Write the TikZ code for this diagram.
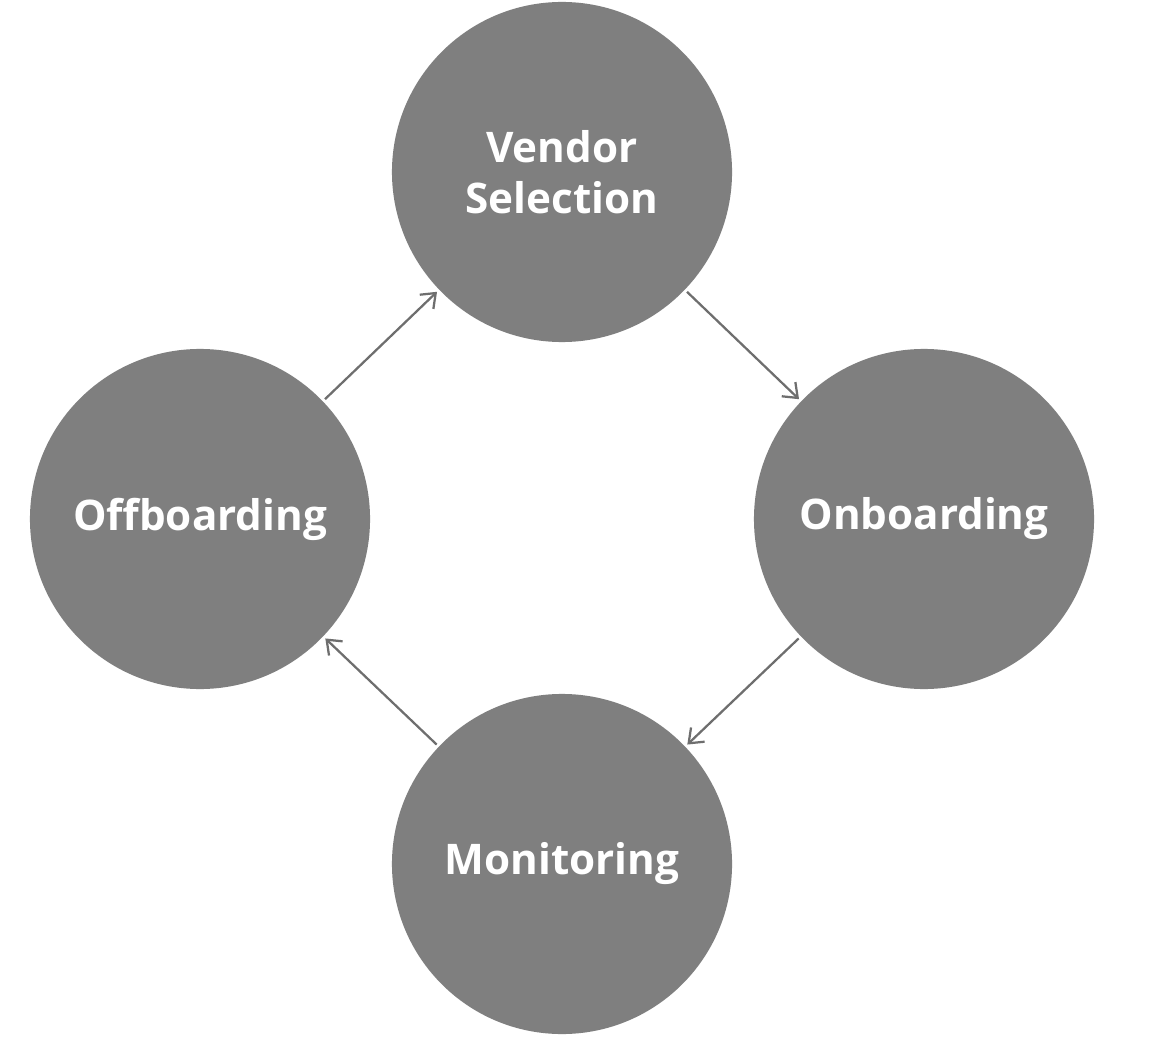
\documentclass[tikz,border=0pt]{standalone}
\usepackage{fontspec}
\setmainfont{Open Sans}
\usetikzlibrary{arrows.meta}
\definecolor{cg}{HTML}{7F7F7F}
\definecolor{ag}{HTML}{6E6E6E}
\begin{document}
\begin{tikzpicture}[x=0.025cm,y=-0.025cm,
  st/.style={circle,fill=cg,minimum size=8.5cm,inner sep=0pt,text=white,font=\fontsize{30}{36}\selectfont\bfseries,align=center},
  ar/.style={draw=ag,line width=1.6pt,-{Straight Barb[length=9pt,width=14pt]},shorten >=2pt,shorten <=2pt}]
\useasboundingbox (0,0) rectangle (1176,1056);
\fill[white] (0,0) rectangle (1176,1056);
\node[st] (v) at (562,172) {Vendor\\Selection};
\node[st] (on) at (924,519) {Onboarding};
\node[st] (m) at (562,864) {Monitoring};
\node[st] (off) at (200,519) {Offboarding};
\draw[ar] (off) -- (v);
\draw[ar] (v) -- (on);
\draw[ar] (on) -- (m);
\draw[ar] (m) -- (off);
\end{tikzpicture}
\end{document}
